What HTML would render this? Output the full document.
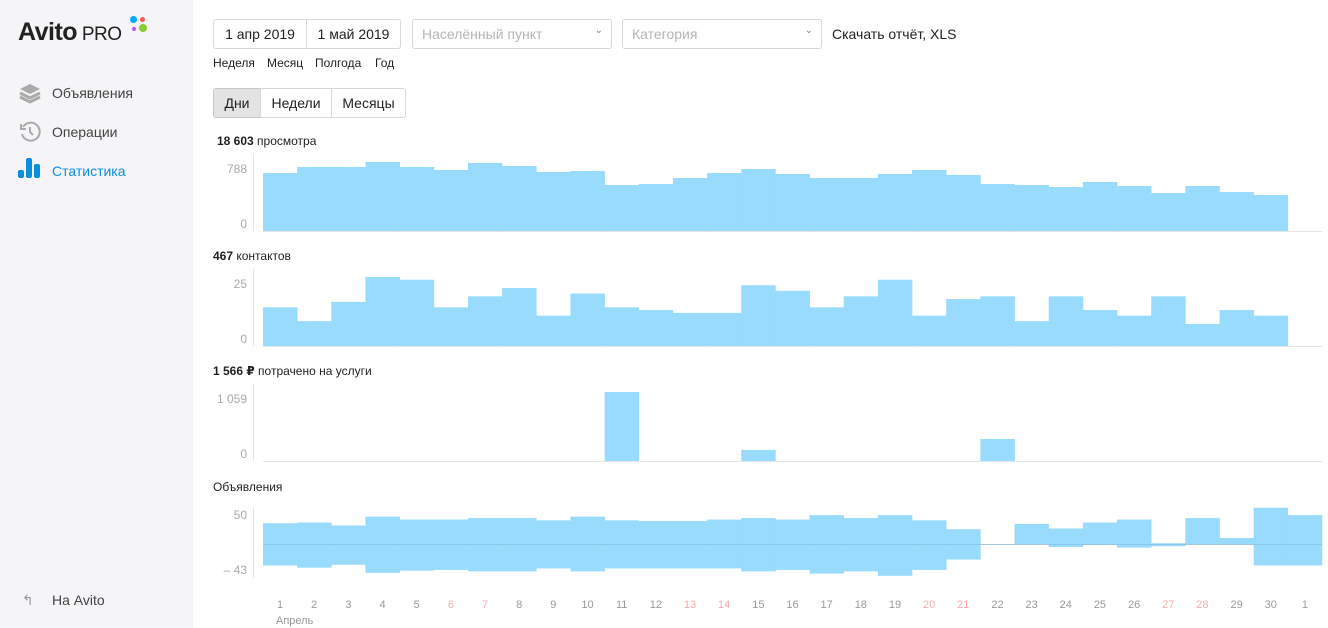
<!DOCTYPE html>
<html><head><meta charset="utf-8">
<style>
body{margin:0;width:1328px;height:628px;overflow:hidden;font-family:"Liberation Sans","DejaVu Sans",sans-serif;background:#fff;position:relative;color:#222}
.abs{position:absolute}
#side{left:0;top:0;width:193px;height:628px;background:#f5f5f7}
.nav{position:absolute;left:52px;font-size:14px;color:#444}
.btn{position:absolute;border:1px solid #d8d8d8;background:#fff;font-size:14px;text-align:center;box-sizing:border-box}
.sel{position:absolute;border:1px solid #d8d8d8;border-radius:3px;font-size:14px;color:#b5b5b5;box-sizing:border-box;padding:6px 9px;height:30px;top:19px}
.sel span.ch{position:absolute;right:8px;top:5px;color:#888;font-size:10px}
.lk{position:absolute;top:56px;font-size:12px;color:#222}
.ttl{position:absolute;left:213px;font-size:12px;color:#222}
</style></head><body>
<div id="side" class="abs">
  <div class="abs" style="left:18px;top:18px;font-size:25px;font-weight:bold;letter-spacing:-0.5px">Avito<span style="font-weight:normal;font-size:19px"> PRO</span></div>
  <div class="abs" style="left:130px;top:16px;width:7px;height:7px;border-radius:50%;background:#0af"></div>
  <div class="abs" style="left:140px;top:17px;width:5px;height:5px;border-radius:50%;background:#f55"></div>
  <div class="abs" style="left:132px;top:27px;width:4px;height:4px;border-radius:50%;background:#b5f"></div>
  <div class="abs" style="left:139px;top:24px;width:8px;height:8px;border-radius:50%;background:#8c3"></div>
  <svg class="abs" style="left:18px;top:82px" width="24" height="22"><path d="M12 2L22 7 12 12 2 7Z" fill="#aaa"/><path d="M2 11L12 16 22 11" stroke="#aaa" stroke-width="3" fill="none"/><path d="M2 15L12 20 22 15" stroke="#aaa" stroke-width="3" fill="none"/></svg>
  <div class="nav" style="top:85px">Объявления</div>
  <svg class="abs" style="left:18px;top:120px" width="24" height="24"><path d="M5 7A9 9 0 1 1 4 14" stroke="#aaa" stroke-width="2" fill="none"/><path d="M12 7V12L15 15" stroke="#aaa" stroke-width="2" fill="none"/><path d="M3 4V9H8" stroke="#aaa" stroke-width="2" fill="none"/></svg>
  <div class="nav" style="top:124px">Операции</div>
  <svg class="abs" style="left:18px;top:158px" width="24" height="22"><rect x="0" y="12" width="6" height="8" rx="2" fill="#0a8ee0"/><rect x="8" y="0" width="6" height="20" rx="2" fill="#0a8ee0"/><rect x="16" y="6" width="6" height="14" rx="2" fill="#0a8ee0"/></svg>
  <div class="nav" style="top:163px;color:#0a8ee0">Статистика</div>
  <div class="nav" style="left:22px;top:592px;color:#999">↰</div>
  <div class="nav" style="top:592px">На Avito</div>
</div>
<div class="btn" style="left:213px;top:19px;width:94px;height:30px;line-height:28px;border-radius:3px 0 0 3px">1 апр 2019</div>
<div class="btn" style="left:306px;top:19px;width:95px;height:30px;line-height:28px;border-radius:0 3px 3px 0">1 май 2019</div>
<div class="sel" style="left:412px;width:200px">Населённый пункт<span class="ch">⌄</span></div>
<div class="sel" style="left:622px;width:200px">Категория<span class="ch">⌄</span></div>
<div class="abs" style="left:832px;top:26px;font-size:14px">Скачать отчёт, XLS</div>
<div class="lk" style="left:213px">Неделя</div>
<div class="lk" style="left:267px">Месяц</div>
<div class="lk" style="left:315px">Полгода</div>
<div class="lk" style="left:375px">Год</div>
<div class="btn" style="left:213px;top:88px;width:48px;height:30px;line-height:28px;background:#e3e3e3;border-color:#c8c8c8;border-radius:3px 0 0 3px">Дни</div>
<div class="btn" style="left:260px;top:88px;width:72px;height:30px;line-height:28px">Недели</div>
<div class="btn" style="left:331px;top:88px;width:75px;height:30px;line-height:28px;border-radius:0 3px 3px 0">Месяцы</div>
<div class="ttl" style="top:134px;left:217px"><b>18 603</b> просмотра</div>
<div class="ttl" style="top:249px"><b>467</b> контактов</div>
<div class="ttl" style="top:364px"><b>1 566 ₽</b> потрачено на услуги</div>
<div class="ttl" style="top:480px">Объявления</div>
<svg id="ch" class="abs" style="left:0;top:0" width="1328" height="628"></svg>
<script>
const days=[1,2,3,4,5,6,7,8,9,10,11,12,13,14,15,16,17,18,19,20,21,22,23,24,25,26,27,28,29,30,1];
const weekend=[6,7,13,14,20,21,27,28];
const views=[662,731,731,788,731,697,777,742,674,685,525,537,605,662,708,651,605,605,651,697,640,537,525,502,560,514,434,514,445,411];
const contacts=[14,9,16,25,24,14,18,21,11,19,14,13,12,12,22,20,14,18,24,11,17,18,9,18,13,11,18,8,13,11];
const spent=[0,0,0,0,0,0,0,0,0,0,1059,0,0,0,170,0,0,0,0,0,0,337,0,0,0,0,0,0,0,0];
const adsPos=[28,29,25,37,33,33,35,35,32,37,32,31,31,33,35,33,39,35,39,32,20,0,27,21,29,33,1,35,8,49,39];
const adsNeg=[29,32,28,39,36,35,37,37,33,37,33,33,33,33,37,35,40,37,43,35,21,0,0,4,1,5,3,0,0,29,29];
const svg=document.getElementById('ch');const NS='http://www.w3.org/2000/svg';
const X0=263,STEP=(1322-263)/31;
const xs=i=>X0+i*STEP;
function mk(t,a,name){const e=document.createElementNS(NS,t);for(const k in a)e.setAttribute(k,a[k]);


svg.appendChild(e);return e;}
function txt(x,y,s,fill,anchor,name){const e=mk('text',{x:x,y:y,fill:fill,'font-size':12,'text-anchor':anchor,'font-family':'Liberation Sans, sans-serif'},name);e.textContent=s;return e;}
function barChart(vals,maxV,base,h,topLabel,prefix){
  const ys=v=>base-v/maxV*h;
  mk('line',{x1:253.5,x2:253.5,y1:base-h-8,y2:base,stroke:'#e5e5e5'},prefix+'-y-axis');
  mk('line',{x1:263,x2:1322,y1:base+0.5,y2:base+0.5,stroke:'#e5e5e5'},prefix+'-baseline');
  txt(247,base-h+11,topLabel,'#aaa','end',prefix+'-tick-max');
  txt(247,base-3,'0','#aaa','end',prefix+'-tick-zero');
  vals.forEach((v,i)=>{if(v>0)mk('rect',{x:xs(i),y:ys(v),width:STEP+0.3,height:base-ys(v),fill:'#98dbfc'},prefix+'-bar-'+(i+1));});
}
barChart(views,788,231,69,'788','views');
barChart(contacts,25,346,69,'25','contacts');
barChart(spent,1059,461,69,'1 059','spent');
// ads chart
const Z=544,K=0.74;
mk('line',{x1:253.5,x2:253.5,y1:507,y2:578,stroke:'#e5e5e5'},'ads-y-axis');
txt(247,519,'50','#aaa','end','ads-tick-max');
txt(247,574,'– 43','#aaa','end','ads-tick-min');
mk('line',{x1:263,x2:1322,y1:Z+0.5,y2:Z+0.5,stroke:'#e0e0e0'},'ads-zero-line');
adsPos.forEach((p,i)=>{const n=adsNeg[i];if(p+n>0)mk('rect',{x:xs(i),y:Z-p*K,width:STEP+0.3,height:(p+n)*K,fill:'#98dbfc'},'ads-bar-'+(i+1));});
mk('line',{x1:263,x2:1322,y1:Z+0.5,y2:Z+0.5,stroke:'#7fb8d8','stroke-opacity':0.6},'ads-zero-line-overlay');
days.forEach((d,i)=>{txt(xs(i)+STEP/2,608,String(d),(i<30&&weekend.includes(d))?'#f4aaaa':'#999','middle','day-label-'+(i+1)).setAttribute('font-size',11);});
txt(276,624,'Апрель','#999','start','month-label').setAttribute('font-size',11);
</script>
</body></html>
